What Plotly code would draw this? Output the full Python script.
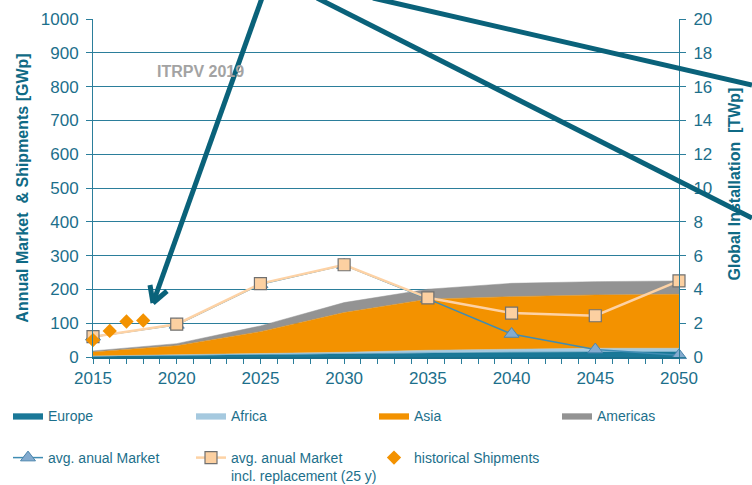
import plotly.graph_objects as go

# ---------------- data ----------------
years = [2015, 2020, 2025, 2030, 2035, 2040, 2045, 2050]
europe_tw = [0.05, 0.10, 0.15, 0.20, 0.25, 0.28, 0.30, 0.30]
africa_tw = [0.01, 0.02, 0.04, 0.08, 0.15, 0.20, 0.22, 0.22]
asia_tw = [0.24, 0.55, 1.31, 2.35, 3.02, 3.09, 3.15, 3.19]
americas_tw = [0.06, 0.12, 0.34, 0.59, 0.59, 0.79, 0.79, 0.79]
market_gw = [60, 95, 215, 272, 172, 68, 22, 5]
replacement_gw = [60, 97, 217, 273, 175, 130, 122, 225]
hist_years = [2015, 2016, 2017, 2018]
hist_gw = [50, 77, 105, 108]
x_ticks = [2015, 2020, 2025, 2030, 2035, 2040, 2045, 2050]

# ---------------- layout constants ----------------
W, H = 752, 485
ML, MR, MT, MB = 93, 73, 19, 128
PW, PH = W - ML - MR, H - MT - MB

def px(x):
    return (x - ML) / PW

def py(y):
    return (H - MB - y) / PH

TEAL_TXT = "#1c6f8b"
TITLE_C = "#0f6a85"
GRID_C = "#2b7e9b"
ARROW_C = "#0a627a"
FONT = "Liberation Sans, Arial, sans-serif"

fig = go.Figure()

area_specs = [
    ("Europe", europe_tw, "#1a7898", "legend"),
    ("Africa", africa_tw, "#a5c9df", "legend"),
    ("Asia", asia_tw, "#f39200", "legend"),
    ("Americas", americas_tw, "#939393", "legend3"),
]
for name, vals, col, leg in area_specs:
    fig.add_trace(go.Scatter(
        x=years, y=vals, name=name, mode="lines", stackgroup="inst",
        line=dict(width=0.5, color=col), fillcolor=col, yaxis="y",
        legend=leg, hoverinfo="x+y+name",
    ))

fig.add_trace(go.Scatter(
    x=years, y=market_gw, name="avg. anual Market", mode="lines+markers",
    yaxis="y2", legend="legend2", cliponaxis=False,
    line=dict(color="#3f8cb3", width=1.5),
    marker=dict(symbol="triangle-up", size=13, color="#84abcf",
                line=dict(color="#4c86ad", width=1)),
))
fig.add_trace(go.Scatter(
    x=years, y=replacement_gw, name="avg. anual Market<br>incl. replacement (25 y)",
    mode="lines+markers", yaxis="y2", legend="legend2", cliponaxis=False,
    line=dict(color="#fdd2a5", width=2.5),
    marker=dict(symbol="square", size=12, color="#fcd0a1",
                line=dict(color="#707070", width=1.2)),
))
fig.add_trace(go.Scatter(
    x=hist_years, y=hist_gw, name="historical Shipments", mode="markers",
    yaxis="y2", legend="legend2", cliponaxis=False,
    marker=dict(symbol="diamond", size=11, color="#f39200"),
))

# arrows / decorative lines (pixel positions converted to paper coords)
def seg(x0, y0, x1, y1):
    return dict(type="line", xref="paper", yref="paper", layer="above",
                x0=px(x0), y0=py(y0), x1=px(x1), y1=py(y1),
                line=dict(color=ARROW_C, width=5))

shapes = [
    seg(262, -2, 153, 303),
    seg(317, -2, 752, 218),
    seg(373, -2, 752, 85),
    seg(153, 303, 167, 291),
    seg(153, 303, 150, 285),
]

leg_common = dict(
    orientation="h", xanchor="left", yanchor="top",
    entrywidth=138, entrywidthmode="pixels", itemwidth=30,
    font=dict(family=FONT, size=14, color=TEAL_TXT),
    bgcolor="rgba(0,0,0,0)", traceorder="normal",
)

fig.update_layout(
    width=W, height=H,
    margin=dict(l=ML, r=MR, t=MT, b=MB, autoexpand=False),
    paper_bgcolor="white", plot_bgcolor="white",
    font=dict(family=FONT, color=TEAL_TXT, size=16),
    showlegend=True,
    xaxis=dict(
        range=[2015, 2050], tickvals=x_ticks, ticks="outside", ticklen=5,
        tickcolor=GRID_C, showline=True, linecolor="#1a6f8c", linewidth=2,
        showgrid=False, zeroline=False,
        tickfont=dict(size=17, color=TEAL_TXT),
        minor=dict(dtick=1, ticks="outside", ticklen=5, tickcolor=GRID_C),
    ),
    yaxis=dict(
        side="right", range=[0, 20], dtick=2, ticks="outside", ticklen=6,
        tickcolor=GRID_C, showline=True, linecolor=GRID_C, linewidth=1,
        showgrid=True, gridcolor=GRID_C, gridwidth=1, zeroline=False,
        tickfont=dict(size=17, color=TEAL_TXT), ticklabelstandoff=4,
    ),
    yaxis2=dict(
        side="left", overlaying="y", range=[0, 1000], dtick=100,
        ticks="outside", ticklen=6, tickcolor=GRID_C, showline=True,
        linecolor=GRID_C, linewidth=1, showgrid=False, zeroline=False,
        tickfont=dict(size=17, color=TEAL_TXT), ticklabelstandoff=4,
        title=dict(text="<b>Annual Market  & Shipments [GWp]</b>",
                   font=dict(size=16, color=TITLE_C), standoff=8),
    ),
    legend=dict(x=px(8), y=py(400), **leg_common),
    legend3=dict(x=px(557), y=py(400), **leg_common),
    legend2=dict(x=px(8), y=py(442), valign="top", **leg_common),
    shapes=shapes,
    annotations=[
        dict(text="<b>ITRPV 2019</b>", x=2021.4, y=844, xref="x", yref="y2",
             showarrow=False, font=dict(size=16, color="#a3a3a3")),
        dict(text="<b>Global Installation  [TWp]</b>", textangle=-90,
             x=px(744), y=py(184), xref="paper", yref="paper",
             showarrow=False, font=dict(size=16, color=TITLE_C)),
    ],
)

fig.write_html("out.html")
